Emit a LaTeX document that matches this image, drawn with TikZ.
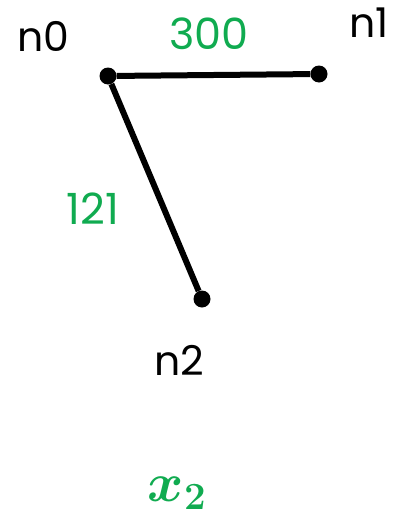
\RequirePackage{fix-cm}
\documentclass[tikz,border=0pt]{standalone}
\usepackage{fontspec}
\setmainfont{Poppins}
\usepackage{amsmath}
\usepackage{bm}
\usetikzlibrary{positioning}
\definecolor{wgreen}{RGB}{16,171,80}

\begin{document}
\begin{tikzpicture}[
    x=1pt, y=-1pt,
    vertex/.style={
        circle,
        fill=black,
        inner sep=0pt,
        minimum size=17pt
    },
    vname/.style={
        font=\fontsize{41}{41}\selectfont,
        text=black
    },
    weight/.style={
        font=\fontsize{43}{43}\selectfont,
        text=wgreen
    },
    edge/.style={line width=6pt}
]
\useasboundingbox (0,0) rectangle (396,525);

% vertices
\node[vertex] (n0) at (108,76) {};
\node[vertex] (n1) at (319,74) {};
\node[vertex] (n2) at (202,299) {};

% names
\node[vname] (l0) at (43,36) {n0};
\node[vname] (l1) at (369,23) {n1};
\node[vname] (l2) at (179,360) {n2};

% edges
\draw[edge] (n0) -- (n1);
\draw[edge] (n0) -- (n2);

% weights
\node[weight] (w01) at (209,34) {300};
\node[weight] (w02) at (93,209) {121};

% caption
\node[text=wgreen, font=\fontsize{55}{55}\selectfont] (cap) at (177,493) {$\bm{x_2}$};
\end{tikzpicture}
\end{document}
